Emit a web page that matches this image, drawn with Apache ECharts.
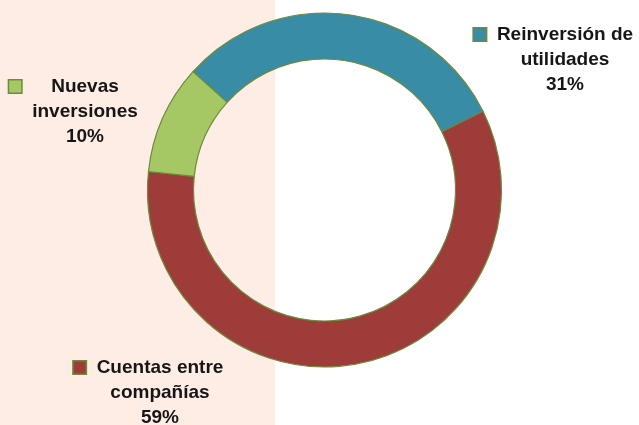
<!DOCTYPE html>
<html>
<head>
<meta charset="utf-8">
<script src="https://cdn.jsdelivr.net/npm/echarts@6/dist/echarts.min.js"></script>
<style>
html,body{margin:0;padding:0;background:#ffffff;}
#chart{width:639px;height:425px;}
</style>
</head>
<body>
<div id="chart"></div>
<script>
// Data
const categories = ['Reinversión de\nutilidades', 'Cuentas entre\ncompañías', 'Nuevas\ninversiones'];
const values = [31, 59, 10];
const percentLabels = ['31%', '59%', '10%'];
const colors = ['#388CA5', '#9E3C39', '#A6C864'];

// Label block placement (top-center of each text block)
const labelPos = [
  {x: 565, y: 22},
  {x: 160, y: 355},
  {x: 85, y: 74}
];

const chart = echarts.init(document.getElementById('chart'));

const seriesData = categories.map((c, i) => ({
  name: c,
  value: values[i],
  itemStyle: {color: colors[i]},
  label: {
    rich: {
      sq: {width: 12, height: 12, backgroundColor: colors[i], borderColor: '#6E8A3C', borderWidth: 1.5, align: 'left'}
    }
  }
}));

chart.setOption({
  animation: false,
  graphic: [{
    type: 'rect', z: -10, silent: true,
    shape: {x: 0, y: 0, width: 275, height: 425},
    style: {fill: '#FDEDE4'}
  }],
  series: [{
    type: 'pie',
    center: [324.5, 190],
    radius: [131, 177],
    startAngle: 138,
    clockwise: true,
    avoidLabelOverlap: false,
    itemStyle: {borderColor: '#6E8A3C', borderWidth: 1.2},
    emphasis: {disabled: true},
    labelLine: {show: false},
    label: {
      show: true,
      position: 'outside',
      formatter: function (p) {
        const lines = categories[p.dataIndex].split('\n').concat([percentLabels[p.dataIndex]]);
        return lines.map((l, k) => (k === 0 ? '{sq|}{gap|}' : '{lb|}') + '{t|' + l + '}{rb|}').join('\n');
      },
      rich: {
        gap: {width: 11, height: 12, align: 'left'},
        lb: {width: 23, height: 12, align: 'left'},
        rb: {width: 23, height: 12, align: 'right'},
        t: {fontFamily: 'Liberation Sans', fontWeight: 'bold', fontSize: 19, color: '#161616', lineHeight: 25, align: 'center'}
      }
    },
    labelLayout: function (params) {
      const p = labelPos[params.dataIndex];
      return {x: p.x, y: p.y, align: 'center', verticalAlign: 'top'};
    },
    data: seriesData
  }]
});
</script>
</body>
</html>
